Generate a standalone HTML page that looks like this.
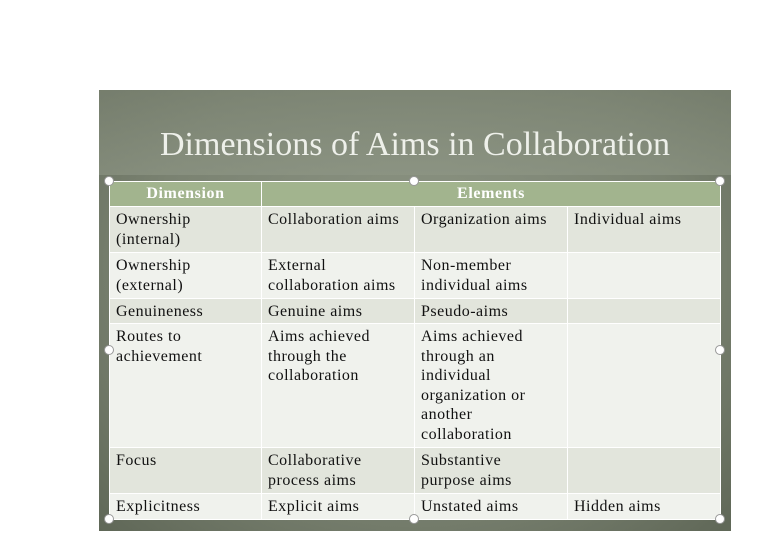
<!DOCTYPE html><html><head><style>
body{margin:0;width:775px;height:552px;background:#fff;position:relative;overflow:hidden;font-family:"Liberation Serif",serif}
.slide{position:absolute;left:99px;top:90px;width:632px;height:441px;background:radial-gradient(ellipse at 50% 40%,#8e9685 0%,#7a8271 60%,#5f6757 100%)}
.top{position:absolute;left:99px;top:90px;width:632px;height:85px;background:linear-gradient(#7d8574,#8f9786);opacity:.6}
.title{position:absolute;left:99px;top:126px;width:632px;text-align:center;color:#eef0ea;font-size:34px;letter-spacing:0}
table{position:absolute;left:109px;top:181px;border-collapse:collapse;width:611px;table-layout:fixed;font-size:16px;letter-spacing:0.5px;color:#111}
td,th{border:1px solid #fff;vertical-align:top;padding:3px 4px 0 6px;line-height:19.5px;overflow:hidden}
th{background:#a2b48e;color:#fff;font-weight:bold;height:20px;padding:2px 6px;text-align:center;font-size:16px;letter-spacing:0.6px}
tr.a td{background:#e2e5dc}tr.b td{background:#f0f2ed}
.h{position:absolute;width:8px;height:8px;border-radius:50%;background:#fff;border:1px solid #999;margin:-5px 0 0 -5px}
</style></head><body>
<div class="slide"></div><div class="top"></div>
<div class="title">Dimensions of Aims in Collaboration</div>
<table>
<colgroup><col style="width:152px"><col style="width:153px"><col style="width:153px"><col style="width:153px"></colgroup>
<tr><th>Dimension</th><th colspan="3">Elements</th></tr>
<tr class="a" style="height:46px"><td>Ownership<br>(internal)</td><td>Collaboration aims</td><td>Organization aims</td><td>Individual aims</td></tr>
<tr class="b" style="height:46px"><td>Ownership<br>(external)</td><td>External<br>collaboration aims</td><td>Non-member<br>individual aims</td><td></td></tr>
<tr class="a" style="height:25px"><td>Genuineness</td><td>Genuine aims</td><td>Pseudo-aims</td><td></td></tr>
<tr class="b" style="height:124px"><td>Routes to<br>achievement</td><td>Aims achieved<br>through the<br>collaboration</td><td>Aims achieved<br>through an<br>individual<br>organization or<br>another<br>collaboration</td><td></td></tr>
<tr class="a" style="height:46px"><td>Focus</td><td>Collaborative<br>process aims</td><td>Substantive<br>purpose aims</td><td></td></tr>
<tr class="b" style="height:26px"><td>Explicitness</td><td>Explicit aims</td><td>Unstated aims</td><td>Hidden aims</td></tr>
</table>
<div class="h" style="left:109px;top:181px"></div><div class="h" style="left:414px;top:181px"></div><div class="h" style="left:720px;top:181px"></div>
<div class="h" style="left:109px;top:350px"></div><div class="h" style="left:720px;top:350px"></div>
<div class="h" style="left:109px;top:519px"></div><div class="h" style="left:414px;top:519px"></div><div class="h" style="left:720px;top:519px"></div>
</body></html>
